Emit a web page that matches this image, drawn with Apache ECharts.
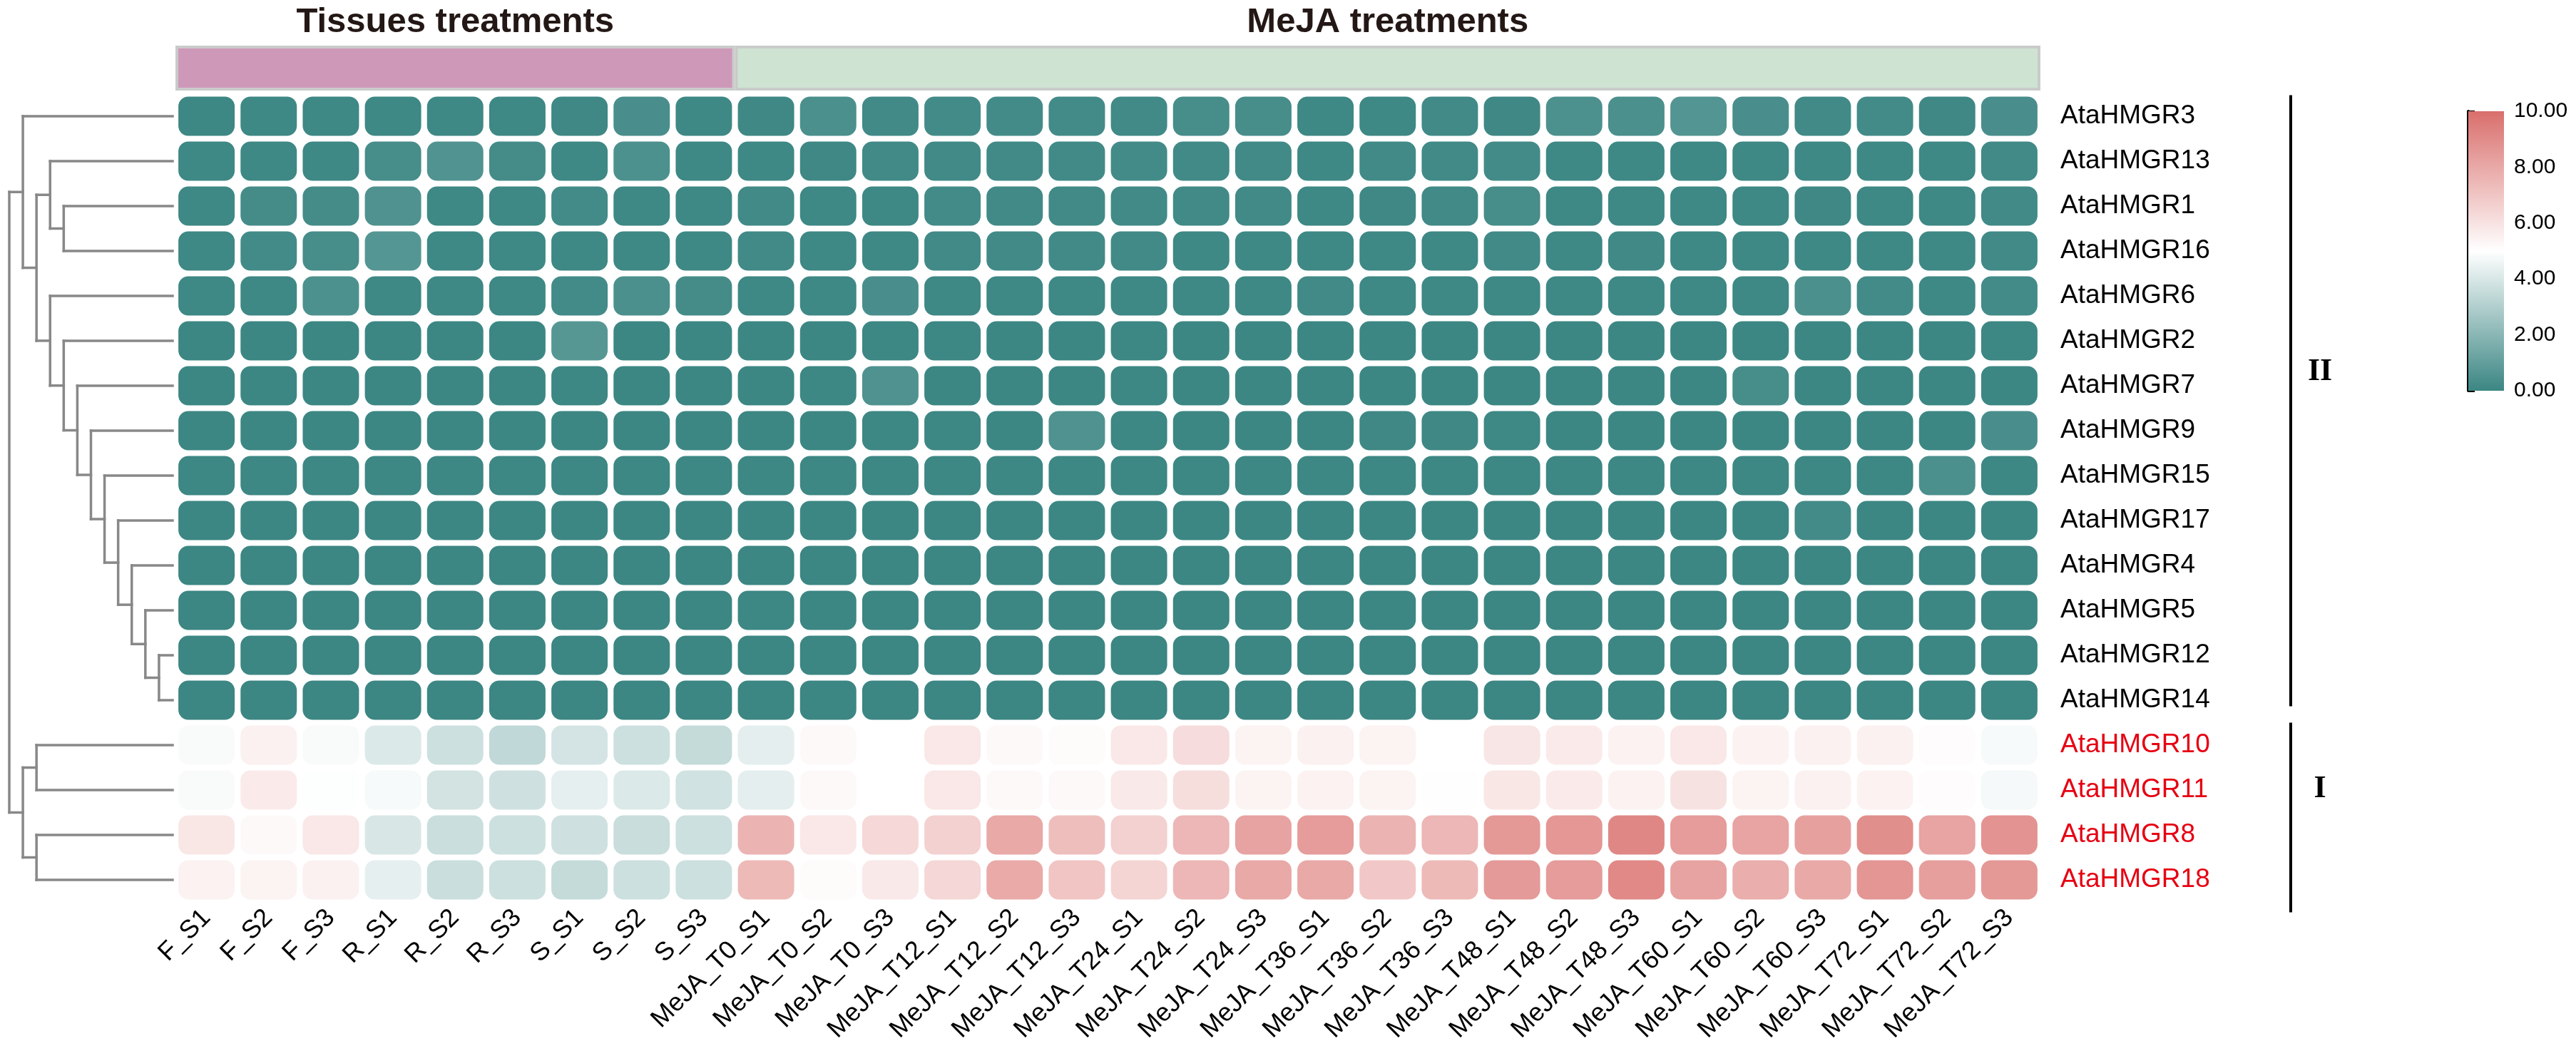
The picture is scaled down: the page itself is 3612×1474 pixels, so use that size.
<!DOCTYPE html>
<html>
<head>
<meta charset="utf-8">
<script src="https://cdn.jsdelivr.net/npm/echarts@6/dist/echarts.min.js"></script>
<style>
html, body { margin: 0; padding: 0; background: #fff; }
#chart { width: 3612px; height: 1474px; }
</style>
</head>
<body>
<div id="chart"></div>
<script>
// samples (columns) and genes (rows, in dendrogram order)
const samples = ['F_S1', 'F_S2', 'F_S3', 'R_S1', 'R_S2', 'R_S3', 'S_S1', 'S_S2', 'S_S3',
  'MeJA_T0_S1', 'MeJA_T0_S2', 'MeJA_T0_S3', 'MeJA_T12_S1', 'MeJA_T12_S2', 'MeJA_T12_S3',
  'MeJA_T24_S1', 'MeJA_T24_S2', 'MeJA_T24_S3', 'MeJA_T36_S1', 'MeJA_T36_S2', 'MeJA_T36_S3',
  'MeJA_T48_S1', 'MeJA_T48_S2', 'MeJA_T48_S3', 'MeJA_T60_S1', 'MeJA_T60_S2', 'MeJA_T60_S3',
  'MeJA_T72_S1', 'MeJA_T72_S2', 'MeJA_T72_S3'];
const genes = ['AtaHMGR3', 'AtaHMGR13', 'AtaHMGR1', 'AtaHMGR16', 'AtaHMGR6', 'AtaHMGR2', 'AtaHMGR7',
  'AtaHMGR9', 'AtaHMGR15', 'AtaHMGR17', 'AtaHMGR4', 'AtaHMGR5', 'AtaHMGR12', 'AtaHMGR14',
  'AtaHMGR10', 'AtaHMGR11', 'AtaHMGR8', 'AtaHMGR18'];

// expression per gene, one value per sample
const hmgr3  = [0.05,0.08,0.08,0.08,0.08,0.08,0.1,0.35,0.08,0.1,0.4,0.15,0.2,0.2,0.2, 0.15,0.3,0.3,0.08,0.08,0.15,0.1,0.45,0.4,0.6,0.35,0.15,0.2,0.1,0.35];
const hmgr13 = [0.08,0.08,0.08,0.3,0.55,0.25,0.08,0.45,0.08,0.08,0.1,0.15,0.15,0.15,0.15, 0.2,0.15,0.15,0.08,0.15,0.15,0.2,0.08,0.08,0.08,0.08,0.08,0.08,0.08,0.15];
const hmgr1  = [0.08,0.25,0.25,0.5,0.08,0.08,0.2,0.08,0.08,0.15,0.08,0.08,0.2,0.15,0.15, 0.15,0.15,0.15,0.08,0.1,0.15,0.3,0.08,0.08,0.08,0.08,0.1,0.08,0.08,0.15];
const hmgr16 = [0.08,0.2,0.3,0.65,0.08,0.08,0.08,0.08,0.08,0.15,0.08,0.08,0.15,0.15,0.15, 0.15,0.08,0.08,0.08,0.08,0.08,0.15,0.08,0.12,0.08,0.08,0.08,0.08,0.08,0.15];
const hmgr6  = [0.08,0.08,0.45,0.08,0.08,0.08,0.2,0.4,0.25,0.08,0.08,0.35,0.08,0.08,0.08, 0.08,0.08,0.08,0.15,0.08,0.08,0.08,0.08,0.08,0.08,0.08,0.4,0.2,0.08,0.2];
const hmgr2  = [0.03,0.03,0.03,0.03,0.03,0.03,0.7,0.03,0.03,0.03,0.03,0.05,0.05,0.03,0.03, 0.05,0.03,0.03,0.03,0.03,0.03,0.03,0.03,0.03,0.03,0.03,0.03,0.03,0.03,0.05];
const hmgr7  = [0.03,0.03,0.03,0.03,0.03,0.03,0.05,0.03,0.03,0.03,0.05,0.5,0.03,0.03,0.03, 0.05,0.03,0.03,0.03,0.03,0.03,0.03,0.03,0.03,0.03,0.3,0.03,0.03,0.03,0.03];
const hmgr9  = [0.03,0.03,0.03,0.03,0.03,0.03,0.03,0.03,0.03,0.03,0.03,0.05,0.05,0.03,0.5, 0.05,0.03,0.03,0.03,0.1,0.1,0.08,0.03,0.03,0.03,0.03,0.03,0.03,0.03,0.35];
const hmgr15 = [0.05,0.05,0.05,0.05,0.05,0.05,0.05,0.05,0.05,0.05,0.05,0.05,0.05,0.05,0.05, 0.05,0.05,0.05,0.05,0.05,0.05,0.05,0.05,0.05,0.05,0.05,0.05,0.05,0.4,0.05];
const hmgr17 = [0.03,0.03,0.03,0.03,0.03,0.03,0.03,0.03,0.03,0.03,0.03,0.03,0.03,0.03,0.03, 0.03,0.03,0.03,0.03,0.03,0.03,0.03,0.03,0.03,0.03,0.03,0.2,0.03,0.03,0.03];
const hmgr4  = [0.02,0.02,0.02,0.02,0.02,0.02,0.02,0.02,0.02,0.02,0.02,0.02,0.02,0.02,0.02, 0.02,0.02,0.02,0.02,0.02,0.02,0.02,0.02,0.02,0.02,0.02,0.02,0.02,0.02,0.02];
const hmgr5  = [0.02,0.02,0.02,0.02,0.02,0.02,0.02,0.02,0.02,0.06,0.02,0.02,0.02,0.02,0.02, 0.02,0.02,0.02,0.02,0.02,0.02,0.02,0.02,0.02,0.02,0.02,0.02,0.02,0.02,0.02];
const hmgr12 = [0.02,0.02,0.02,0.02,0.02,0.02,0.02,0.02,0.02,0.02,0.02,0.02,0.02,0.02,0.02, 0.02,0.02,0.02,0.02,0.02,0.02,0.02,0.02,0.02,0.02,0.02,0.02,0.02,0.02,0.02];
const hmgr14 = [0.02,0.02,0.02,0.02,0.02,0.02,0.02,0.02,0.02,0.02,0.02,0.02,0.02,0.02,0.02, 0.02,0.02,0.02,0.02,0.02,0.02,0.02,0.02,0.02,0.02,0.02,0.02,0.02,0.02,0.02];
const hmgr10 = [4.85,5.5,4.85,4.1,3.7,3.4,3.9,3.7,3.5,4.3,5.2,5.0,5.8,5.2,5.15, 5.8,6.2,5.4,5.5,5.4,5.0,5.9,5.7,5.45,5.8,5.45,5.5,5.5,5.1,4.8];
const hmgr11 = [4.85,5.7,4.95,4.8,3.85,3.75,4.35,4.1,3.8,4.3,5.2,5.0,5.8,5.2,5.2, 5.75,6.15,5.4,5.45,5.4,5.05,5.85,5.7,5.45,6.0,5.4,5.5,5.45,5.1,4.75];
const hmgr8  = [5.85,5.2,5.8,4.0,3.65,3.7,3.75,3.6,3.7,7.6,5.8,6.35,6.6,8.0,7.25, 6.6,7.5,8.2,8.45,7.6,7.5,8.55,8.6,9.15,8.45,8.15,8.25,8.9,8.15,8.7];
const hmgr18 = [5.45,5.4,5.5,4.35,3.65,3.7,3.5,3.7,3.7,7.4,5.15,5.75,6.4,7.95,7.0, 6.45,7.5,8.0,8.0,6.9,7.4,8.5,8.45,9.1,8.2,7.8,8.0,8.65,8.35,8.55];
const expression = [hmgr3, hmgr13, hmgr1, hmgr16, hmgr6, hmgr2, hmgr7, hmgr9, hmgr15,
  hmgr17, hmgr4, hmgr5, hmgr12, hmgr14, hmgr10, hmgr11, hmgr8, hmgr18];

// column groups (top annotation bar)
const groupNames = ['Tissues treatments', 'MeJA treatments'];
const groupFirst = [0, 9];
const groupLast = [8, 29];

// row clusters (right brackets)
const clusterNames = ['II', 'I'];
const clusterFirst = [0, 14];
const clusterLast = [13, 17];

// dendrogram: [merge height, left, right]
const tree = [12,
  [11, 'AtaHMGR3',
    [10,
      [9, 'AtaHMGR13', [8, 'AtaHMGR1', 'AtaHMGR16']],
      [9, 'AtaHMGR6', [8, 'AtaHMGR2', [7, 'AtaHMGR7', [6, 'AtaHMGR9', [5, 'AtaHMGR15',
        [4, 'AtaHMGR17', [3, 'AtaHMGR4', [2, 'AtaHMGR5', [1, 'AtaHMGR12', 'AtaHMGR14']]]]]]]]]]],
  [11, [10, 'AtaHMGR10', 'AtaHMGR11'], [10, 'AtaHMGR8', 'AtaHMGR18']]
];

// colour scale
const scaleMin = 0, scaleMax = 10;
const lowColor = '#3b8683', midColor = '#ffffff', highColor = '#d96f6c';
const groupColors = ['#ce98b9', '#cfe3d2'];

const sans = "'Liberation Sans', Arial, sans-serif";

const cells = [];
expression.forEach((row, r) => row.forEach((v, c) => cells.push([c, r, v])));

const segs = [];
function walk(n) {
  if (typeof n === 'string') return { h: 0, y: genes.indexOf(n) };
  const a = walk(n[1]), b = walk(n[2]);
  segs.push([a.h, a.y, n[0], a.y]);
  segs.push([b.h, b.y, n[0], b.y]);
  segs.push([n[0], a.y, n[0], b.y]);
  return { h: n[0], y: (a.y + b.y) / 2 };
}
walk(tree);

const groupData = groupNames.map((g, i) => [groupFirst[i], groupLast[i], i]);
const clusterData = clusterNames.map((g, i) => [clusterFirst[i], clusterLast[i], i]);
const bracketPad = [[2, -23], [0, 14]];
const redRow = i => i >= clusterFirst[1];

const chart = echarts.init(document.getElementById('chart'));
chart.setOption({
  backgroundColor: '#fff',
  animation: false,
  grid: [
    { left: 246, top: 131.5, width: 2615, height: 1134 },   // heatmap
    { left: 13, top: 131.5, width: 229, height: 1134 },     // dendrogram
    { left: 246, top: 64, width: 2615, height: 63 },        // group bar
    { left: 3461, top: 156, width: 50, height: 392 },       // colour bar
    { left: 3212, top: 131.5, width: 41, height: 1134 }     // clusters
  ],
  xAxis: [
    {
      type: 'category', gridIndex: 0, data: samples,
      axisLine: { show: false }, axisTick: { show: false }, splitLine: { show: false },
      axisLabel: { rotate: 45, interval: 0, margin: 16, fontSize: 36, color: '#000', fontFamily: sans }
    },
    { type: 'value', gridIndex: 1, min: 0, max: 12, inverse: true, show: false },
    { type: 'category', gridIndex: 2, data: samples, show: false },
    { type: 'value', gridIndex: 3, min: 0, max: 1, show: false },
    { type: 'value', gridIndex: 4, min: 0, max: 1, show: false }
  ],
  yAxis: [
    {
      type: 'category', gridIndex: 0, data: genes, inverse: true, position: 'right',
      axisLine: { show: false }, axisTick: { show: false }, splitLine: { show: false },
      axisLabel: {
        interval: 0, margin: 28, fontSize: 37, fontFamily: sans,
        color: (v, i) => redRow(i) ? '#e60012' : '#000'
      }
    },
    { type: 'value', gridIndex: 1, min: -0.5, max: 17.5, inverse: true, show: false },
    { type: 'value', gridIndex: 2, min: 0, max: 1, show: false },
    {
      type: 'value', gridIndex: 3, min: scaleMin, max: scaleMax, interval: 2, position: 'right',
      splitLine: { show: false },
      axisLine: { show: true, lineStyle: { color: '#000', width: 4 } },
      axisTick: { show: true, length: 9, lineStyle: { color: '#000', width: 3 } },
      axisLabel: { margin: 14, fontSize: 30, color: '#000', fontFamily: sans, formatter: v => v.toFixed(2) }
    },
    { type: 'value', gridIndex: 4, min: -0.5, max: 17.5, inverse: true, show: false }
  ],
  visualMap: {
    type: 'continuous', show: false, seriesIndex: 0, dimension: 2,
    min: scaleMin, max: scaleMax,
    inRange: { color: [lowColor, midColor, highColor] }
  },
  series: [
    {
      type: 'custom', xAxisIndex: 0, yAxisIndex: 0, data: cells,
      encode: { x: 0, y: 1 },
      renderItem: (params, api) => {
        const c = api.coord([api.value(0), api.value(1)]);
        const s = api.size([1, 1]);
        const w = s[0] - 8.2, h = s[1] - 8;
        return {
          type: 'rect',
          shape: { x: c[0] - w / 2, y: c[1] - h / 2, width: w, height: h, r: 14 },
          style: { fill: api.visual('color') }
        };
      }
    },
    {
      type: 'custom', xAxisIndex: 1, yAxisIndex: 1, data: segs, clip: false,
      encode: { x: [0, 2], y: [1, 3] },
      renderItem: (params, api) => {
        const p1 = api.coord([api.value(0), api.value(1)]);
        const p2 = api.coord([api.value(2), api.value(3)]);
        return {
          type: 'line',
          shape: { x1: p1[0], y1: p1[1], x2: p2[0], y2: p2[1] },
          style: { stroke: '#888888', lineWidth: 3.5, lineCap: 'square' }
        };
      }
    },
    {
      type: 'custom', xAxisIndex: 2, yAxisIndex: 2, data: groupData, clip: false,
      encode: { x: [0, 1] },
      renderItem: (params, api) => {
        const i = api.value(2);
        const bw = api.size([1, 0])[0];
        const x0 = api.coord([api.value(0), 1])[0] - bw / 2 + 2;
        const x1 = api.coord([api.value(1), 0])[0] + bw / 2 - 2;
        const top = api.coord([0, 1])[1], bottom = api.coord([0, 0])[1];
        return {
          type: 'group',
          children: [
            {
              type: 'rect',
              shape: { x: x0, y: top + 2, width: x1 - x0, height: bottom - top - 4 },
              style: { fill: groupColors[i], stroke: '#c9cbca', lineWidth: 4 }
            },
            {
              type: 'text',
              style: {
                x: (x0 + x1) / 2, y: top - 33, text: groupNames[i],
                fill: '#231815', font: 'bold 49px ' + sans,
                align: 'center', verticalAlign: 'middle'
              }
            }
          ]
        };
      }
    },
    {
      type: 'custom', xAxisIndex: 3, yAxisIndex: 3, data: [[0, scaleMin]],
      renderItem: (params, api) => {
        const a = api.coord([0, scaleMax]), b = api.coord([1, scaleMin]);
        return {
          type: 'rect',
          shape: { x: a[0], y: a[1], width: b[0] - a[0], height: b[1] - a[1] },
          style: {
            fill: new echarts.graphic.LinearGradient(0, 0, 0, 1, [
              { offset: 0, color: highColor },
              { offset: 0.5, color: midColor },
              { offset: 1, color: lowColor }
            ])
          }
        };
      }
    },
    {
      type: 'custom', xAxisIndex: 4, yAxisIndex: 4, data: clusterData, clip: false,
      encode: { y: [0, 1] },
      renderItem: (params, api) => {
        const i = api.value(2);
        const x = api.coord([0, 0])[0];
        const lx = api.coord([1, 0])[0];
        const y0 = api.coord([0, api.value(0) - 0.5])[1] + bracketPad[i][0];
        const y1 = api.coord([0, api.value(1) + 0.5])[1] + bracketPad[i][1];
        return {
          type: 'group',
          children: [
            {
              type: 'line',
              shape: { x1: x, y1: y0, x2: x, y2: y1 },
              style: { stroke: '#000', lineWidth: 4 }
            },
            {
              type: 'text',
              style: {
                x: lx, y: (y0 + y1) / 2 - 40, text: clusterNames[i],
                fill: '#000', font: "bold 44px 'Liberation Serif', 'Times New Roman', serif",
                align: 'center', verticalAlign: 'middle'
              }
            }
          ]
        };
      }
    }
  ]
});
</script>
</body>
</html>
